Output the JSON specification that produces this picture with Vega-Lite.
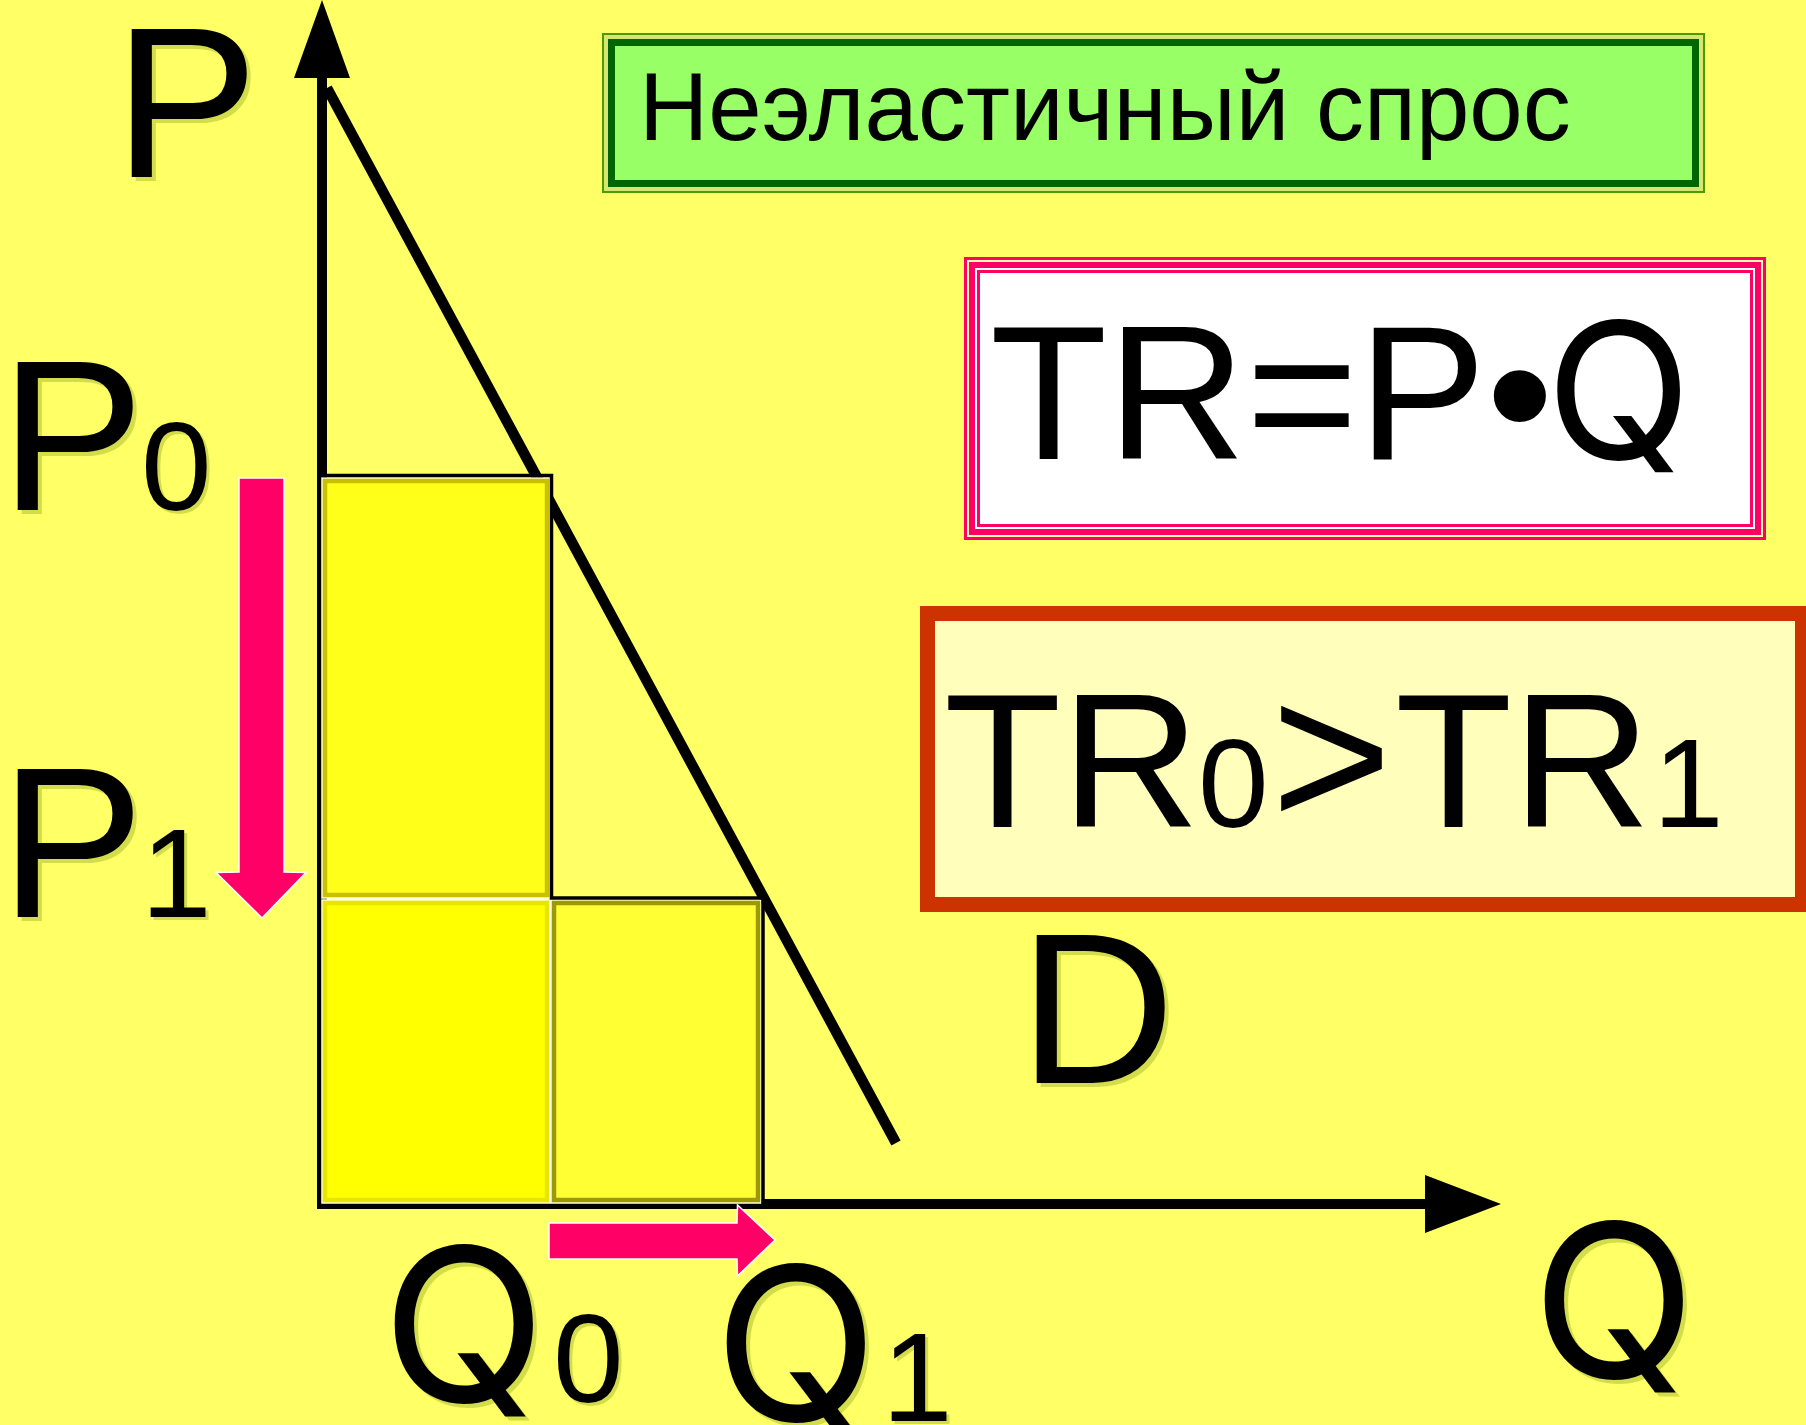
{
  "$schema": "https://vega.github.io/schema/vega-lite/v6.json",
  "width": 1806,
  "height": 1425,
  "autosize": {"type": "none"},
  "padding": 0,
  "background": "#FFFF66",
  "config": {"view": {"stroke": null}},
  "datasets": {
    "greenBox": [{"q": 283, "p": 1171, "q2": 1384, "p2": 1013}],
    "formulaBox": [{"q": 644, "p": 948, "q2": 1446, "p2": 665}],
    "resultBox": [{"q": 600, "p": 599, "q2": 1490, "p2": 293}],
    "demand": [{"q": 7, "p": 1117}, {"q": 576, "p": 62}],
    "axes": [
      {"axis": "P", "q": 2, "p": -4, "q2": 2, "p2": 1128},
      {"axis": "Q", "q": -3, "p": 1, "q2": 1106, "p2": 1}
    ],
    "pHead": [
      {"q": -26, "p": 1127, "p2": 1127},
      {"q": 2, "p": 1205, "p2": 1127},
      {"q": 30, "p": 1127, "p2": 1127}
    ],
    "qHead": [
      {"p": -28, "q": 1105, "q2": 1105},
      {"p": 1, "q": 1181, "q2": 1105},
      {"p": 30, "q": 1105, "q2": 1105}
    ],
    "revenue": [
      {"part": "upper", "q": 2, "q2": 230, "p": 727, "p2": 307},
      {"part": "lowerLeft", "q": 2, "q2": 230, "p": 305, "p2": 2},
      {"part": "lowerRight", "q": 231, "q2": 441, "p": 305, "p2": 2}
    ],
    "outline": [
      {"i": 1, "q": 2, "p": 729.5},
      {"i": 2, "q": 231.5, "p": 729.5},
      {"i": 3, "q": 231.5, "p": 307},
      {"i": 4, "q": 443, "p": 307},
      {"i": 5, "q": 443, "p": -2}
    ],
    "priceArrow": [
      {"p": 727, "q": -81, "q2": -36},
      {"p": 332.5, "q": -104, "q2": -14},
      {"p": 333, "q": -81, "q2": -36},
      {"p": 287, "q": -58, "q2": -58}
    ],
    "quantityArrow": [
      {"q": 229, "p": -18, "p2": -54},
      {"q": 417, "p": -18, "p2": -54},
      {"q": 417.5, "p": 0, "p2": -71},
      {"q": 455, "p": -35, "p2": -35}
    ],
    "big": [
      {"t": "P", "q": -206, "p": 1028},
      {"t": "P", "q": -320, "p": 695},
      {"t": "P", "q": -320, "p": 288},
      {"t": "D", "q": 699, "p": 122}
    ],
    "bigQ": [
      {"t": "Q", "q": 62, "p": -197},
      {"t": "Q", "q": 394, "p": -216},
      {"t": "Q", "q": 1212, "p": -173}
    ],
    "sub": [
      {"t": "0", "q": -179, "p": 695},
      {"t": "1", "q": -179, "p": 288},
      {"t": "0", "q": 233, "p": -197},
      {"t": "1", "q": 562, "p": -216}
    ],
    "title": [{"t": "Неэластичный спрос", "q": 319, "p": 1065}],
    "formula": [{"t": "TR=P•", "q": 670, "p": 746}],
    "formulaQ": [{"t": "Q", "q": 1226, "p": 746}],
    "ineq": [{"t": "TR", "q": 624, "p": 378}, {"t": "TR", "q": 1075, "p": 378}],
    "ineqSub": [{"t": "0", "q": 878, "p": 378}, {"t": "1", "q": 1333, "p": 378}],
    "ineqGt": [{"t": ">", "q": 951, "p": 378}]
  },
  "encoding": {
    "x": {"field": "q", "type": "quantitative", "stack": null, "axis": null, "scale": {"domain": [-320, 1486], "nice": false, "zero": false}},
    "y": {"field": "p", "type": "quantitative", "stack": null, "axis": null, "scale": {"domain": [-220, 1205], "nice": false, "zero": false}}
  },
  "layer": [
    {
      "data": {"name": "greenBox"},
      "mark": {"type": "rect", "fill": "#D6E66E", "stroke": "#4F9A00", "strokeWidth": 2},
      "encoding": {"x2": {"field": "q2"}, "y2": {"field": "p2"}}
    },
    {
      "data": {"name": "greenBox"},
      "mark": {"type": "rect", "fill": "#99FF66", "stroke": "#006600", "strokeWidth": 7, "xOffset": 8.5, "x2Offset": -8.5, "yOffset": 8.5, "y2Offset": -8.5},
      "encoding": {"x2": {"field": "q2"}, "y2": {"field": "p2"}}
    },
    {
      "data": {"name": "formulaBox"},
      "mark": {"type": "rect", "fill": "#FF0066"},
      "encoding": {"x2": {"field": "q2"}, "y2": {"field": "p2"}}
    },
    {
      "data": {"name": "formulaBox"},
      "mark": {"type": "rect", "filled": false, "stroke": "#FFFFAA", "strokeWidth": 2, "xOffset": 4, "x2Offset": -4, "yOffset": 4, "y2Offset": -4},
      "encoding": {"x2": {"field": "q2"}, "y2": {"field": "p2"}}
    },
    {
      "data": {"name": "formulaBox"},
      "mark": {"type": "rect", "fill": "#FFFFFF", "xOffset": 11, "x2Offset": -11, "yOffset": 11, "y2Offset": -11},
      "encoding": {"x2": {"field": "q2"}, "y2": {"field": "p2"}}
    },
    {
      "data": {"name": "formulaBox"},
      "mark": {"type": "rect", "filled": false, "stroke": "#FF0066", "strokeWidth": 3, "xOffset": 14.5, "x2Offset": -14.5, "yOffset": 14.5, "y2Offset": -14.5},
      "encoding": {"x2": {"field": "q2"}, "y2": {"field": "p2"}}
    },
    {
      "data": {"name": "resultBox"},
      "mark": {"type": "rect", "fill": "#FFFFBB", "stroke": "#CC3300", "strokeWidth": 15, "xOffset": 7.5, "x2Offset": -7.5, "yOffset": 7.5, "y2Offset": -7.5},
      "encoding": {"x2": {"field": "q2"}, "y2": {"field": "p2"}}
    },
    {
      "data": {"name": "demand"},
      "mark": {"type": "line", "stroke": "#000000", "strokeWidth": 10.5, "strokeCap": "butt"},
      "encoding": {}
    },
    {
      "data": {"name": "axes"},
      "mark": {"type": "rule", "stroke": "#000000", "strokeWidth": 10},
      "encoding": {"x2": {"field": "q2"}, "y2": {"field": "p2"}}
    },
    {
      "data": {"name": "pHead"},
      "mark": {"type": "area", "orient": "vertical", "fill": "#000000"},
      "encoding": {"y2": {"field": "p2"}}
    },
    {
      "data": {"name": "qHead"},
      "mark": {"type": "area", "orient": "horizontal", "fill": "#000000"},
      "encoding": {"x2": {"field": "q2"}}
    },
    {
      "data": {"name": "revenue"},
      "mark": {"type": "rect", "stroke": "#FFFFFF", "strokeWidth": 1.5},
      "encoding": {
        "x2": {"field": "q2"},
        "y2": {"field": "p2"},
        "fill": {"field": "part", "type": "nominal", "legend": null, "scale": {"domain": ["upper", "lowerLeft", "lowerRight"], "range": ["#FFFF1A", "#FFFF00", "#FFFF33"]}}
      }
    },
    {
      "data": {"name": "revenue"},
      "mark": {"type": "rect", "filled": false, "strokeWidth": 4.5, "xOffset": 3, "x2Offset": -3, "yOffset": 3, "y2Offset": -3},
      "encoding": {
        "x2": {"field": "q2"},
        "y2": {"field": "p2"},
        "stroke": {"field": "part", "type": "nominal", "legend": null, "scale": {"domain": ["upper", "lowerLeft", "lowerRight"], "range": ["#C8C000", "#E6E600", "#9C9A00"]}}
      }
    },
    {
      "data": {"name": "outline"},
      "mark": {"type": "line", "stroke": "#000000", "strokeWidth": 3.5, "strokeJoin": "miter"},
      "encoding": {"order": {"field": "i", "type": "quantitative"}}
    },
    {
      "data": {"name": "priceArrow"},
      "mark": {"type": "area", "orient": "horizontal", "fill": "#FF0066", "stroke": "#FFFFFF", "strokeWidth": 1.5},
      "encoding": {"x2": {"field": "q2"}}
    },
    {
      "data": {"name": "quantityArrow"},
      "mark": {"type": "area", "orient": "vertical", "fill": "#FF0066", "stroke": "#FFFFFF", "strokeWidth": 1.5},
      "encoding": {"y2": {"field": "p2"}}
    },
    {
      "data": {"name": "big"},
      "mark": {"type": "text", "font": "Liberation Sans", "fontSize": 216, "align": "left", "baseline": "alphabetic", "fill": "#9FB52A", "opacity": 0.45, "dx": 4, "dy": 4},
      "encoding": {"text": {"field": "t"}}
    },
    {
      "data": {"name": "bigQ"},
      "mark": {"type": "text", "font": "Inter", "fontSize": 214, "align": "left", "baseline": "alphabetic", "fill": "#9FB52A", "opacity": 0.45, "dx": 4, "dy": 4},
      "encoding": {"text": {"field": "t"}}
    },
    {
      "data": {"name": "sub"},
      "mark": {"type": "text", "font": "Liberation Sans", "fontSize": 127, "align": "left", "baseline": "alphabetic", "fill": "#9FB52A", "opacity": 0.45, "dx": 3, "dy": 3},
      "encoding": {"text": {"field": "t"}}
    },
    {
      "data": {"name": "big"},
      "mark": {"type": "text", "font": "Liberation Sans", "fontSize": 216, "align": "left", "baseline": "alphabetic", "fill": "#000000"},
      "encoding": {"text": {"field": "t"}}
    },
    {
      "data": {"name": "bigQ"},
      "mark": {"type": "text", "font": "Inter", "fontSize": 214, "align": "left", "baseline": "alphabetic", "fill": "#000000"},
      "encoding": {"text": {"field": "t"}}
    },
    {
      "data": {"name": "sub"},
      "mark": {"type": "text", "font": "Liberation Sans", "fontSize": 127, "align": "left", "baseline": "alphabetic", "fill": "#000000"},
      "encoding": {"text": {"field": "t"}}
    },
    {
      "data": {"name": "title"},
      "mark": {"type": "text", "font": "Liberation Sans", "fontSize": 96, "align": "left", "baseline": "alphabetic", "fill": "#000000"},
      "encoding": {"text": {"field": "t"}}
    },
    {
      "data": {"name": "formula"},
      "mark": {"type": "text", "font": "Liberation Sans", "fontSize": 192, "align": "left", "baseline": "alphabetic", "fill": "#000000"},
      "encoding": {"text": {"field": "t"}}
    },
    {
      "data": {"name": "formulaQ"},
      "mark": {"type": "text", "font": "Inter", "fontSize": 190, "align": "left", "baseline": "alphabetic", "fill": "#000000"},
      "encoding": {"text": {"field": "t"}}
    },
    {
      "data": {"name": "ineq"},
      "mark": {"type": "text", "font": "Liberation Sans", "fontSize": 192, "align": "left", "baseline": "alphabetic", "fill": "#000000"},
      "encoding": {"text": {"field": "t"}}
    },
    {
      "data": {"name": "ineqSub"},
      "mark": {"type": "text", "font": "Liberation Sans", "fontSize": 127, "align": "left", "baseline": "alphabetic", "fill": "#000000"},
      "encoding": {"text": {"field": "t"}}
    },
    {
      "data": {"name": "ineqGt"},
      "mark": {"type": "text", "font": "Liberation Sans", "fontSize": 207, "align": "left", "baseline": "alphabetic", "fill": "#000000"},
      "encoding": {"text": {"field": "t"}}
    }
  ]
}
